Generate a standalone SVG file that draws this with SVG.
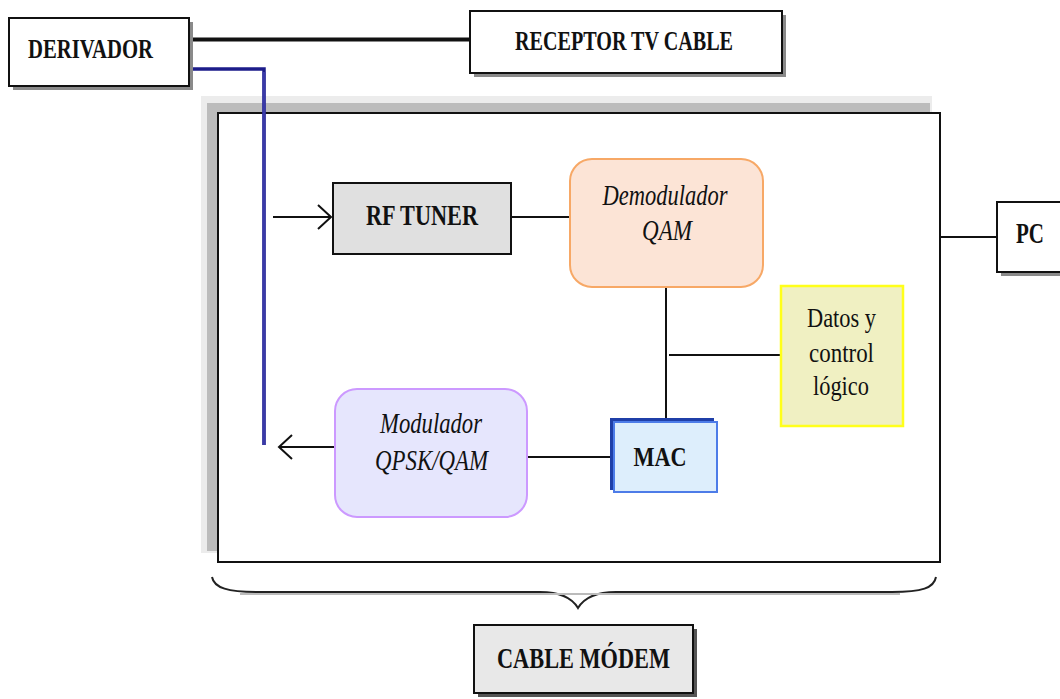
<svg xmlns="http://www.w3.org/2000/svg" width="1060" height="699" viewBox="0 0 1060 699">
<defs>
<style>
.t{font-family:"Liberation Serif","Times New Roman",serif;fill:#111;text-anchor:middle}
.b{font-weight:bold}
.i{font-style:italic}
.box{stroke:#111;stroke-width:2}
.sh{fill:#8a8a8a}
.ln{stroke:#111;stroke-width:2;fill:none}
</style>
</defs>
<rect width="1060" height="699" fill="#fff"/>

<g id="cable-modem-frame">
<rect x="201" y="96" width="731" height="457" fill="#ececec"/>
<rect x="207" y="103" width="723" height="448" fill="#bcbcbc"/>
<rect x="218" y="113" width="722" height="449" fill="#fff" class="box"/>
</g>

<g id="connectors">
<line x1="190" y1="39.5" x2="471" y2="39.5" stroke="#111" stroke-width="4"/>
<polyline points="190,69 264,69 264,445" fill="none" stroke="#1c1c8a" stroke-width="3.5"/>
<line x1="264" y1="72" x2="264" y2="445" stroke="#3a3aa8" stroke-width="3"/>
<line class="ln" x1="273" y1="217" x2="331" y2="217"/>
<polyline class="ln" points="318,205 331,217 318,229"/>
<line class="ln" x1="511" y1="217" x2="570" y2="217"/>
<line class="ln" x1="666" y1="287" x2="666" y2="420"/>
<line class="ln" x1="669" y1="355" x2="780" y2="355"/>
<line class="ln" x1="527" y1="457" x2="612" y2="457"/>
<line class="ln" x1="335" y1="447" x2="279" y2="447"/>
<polyline class="ln" points="292,435 279,447 292,459"/>
<line class="ln" x1="940" y1="237" x2="997" y2="237"/>
<path d="M212,577 C214,588 228,592 258,592 L540,592 C560,592 572,598 578,608 C584,598 596,592 616,592 L892,592 C922,592 934,588 936,577" fill="none" stroke="#222" stroke-width="2"/>
<line x1="240" y1="594" x2="900" y2="594" stroke="#bbb" stroke-width="2"/>
</g>

<g id="derivador">
<rect x="13" y="22" width="180" height="68" class="sh"/>
<rect x="9" y="18" width="180" height="68" fill="#fff" class="box"/>
<text x="90.5" y="58" class="t b" font-size="27" textLength="125" lengthAdjust="spacingAndGlyphs">DERIVADOR</text>
</g>

<g id="receptor">
<rect x="474" y="15" width="312" height="62" class="sh"/>
<rect x="470" y="11" width="312" height="62" fill="#fff" class="box"/>
<text x="624" y="50" class="t b" font-size="27" textLength="218" lengthAdjust="spacingAndGlyphs">RECEPTOR TV CABLE</text>
</g>

<g id="rf-tuner">
<rect x="333" y="183" width="178" height="71" fill="#e0e0e0" class="box"/>
<text x="422" y="225" class="t b" font-size="29" textLength="112" lengthAdjust="spacingAndGlyphs">RF TUNER</text>
</g>

<g id="demodulador">
<rect x="570" y="159" width="193" height="128" rx="22" fill="#fce4d6" stroke="#f7a866" stroke-width="2"/>
<text x="665" y="205" class="t i" font-size="29" textLength="125" lengthAdjust="spacingAndGlyphs">Demodulador</text>
<text x="667" y="240" class="t i" font-size="29" textLength="50" lengthAdjust="spacingAndGlyphs">QAM</text>
</g>

<g id="datos">
<rect x="781" y="286" width="122" height="140" fill="#f0f0c2" stroke="#ffff1a" stroke-width="2.5"/>
<text x="841.5" y="327" class="t" font-size="28" textLength="69" lengthAdjust="spacingAndGlyphs">Datos y</text>
<text x="841.5" y="362" class="t" font-size="28" textLength="65" lengthAdjust="spacingAndGlyphs">control</text>
<text x="841" y="395" class="t" font-size="28" textLength="56" lengthAdjust="spacingAndGlyphs">lógico</text>
</g>

<g id="pc">
<rect x="1001" y="206" width="70" height="70" class="sh"/>
<rect x="997" y="202" width="70" height="70" fill="#fff" class="box"/>
<text x="1030" y="243" class="t b" font-size="29" textLength="28" lengthAdjust="spacingAndGlyphs">PC</text>
</g>

<g id="mac">
<rect x="610" y="418" width="104" height="72" fill="#1f3fa8"/>
<rect x="614" y="422" width="103" height="70" fill="#ddeefc" stroke="#4d7ce8" stroke-width="2"/>
<text x="660" y="466" class="t b" font-size="28" textLength="53" lengthAdjust="spacingAndGlyphs">MAC</text>
</g>

<g id="modulador">
<rect x="335" y="389" width="192" height="128" rx="22" fill="#e6e6fd" stroke="#cc99ff" stroke-width="2"/>
<text x="431" y="433" class="t i" font-size="29" textLength="102" lengthAdjust="spacingAndGlyphs">Modulador</text>
<text x="431.5" y="470" class="t i" font-size="29" textLength="113" lengthAdjust="spacingAndGlyphs">QPSK/QAM</text>
</g>

<g id="cable-modem-label">
<rect x="478" y="629" width="219" height="68" fill="#555"/>
<rect x="474" y="625" width="219" height="68" fill="#e8e8e8" class="box"/>
<text x="583.5" y="668" class="t b" font-size="29" textLength="173" lengthAdjust="spacingAndGlyphs">CABLE MÓDEM</text>
</g>
</svg>
